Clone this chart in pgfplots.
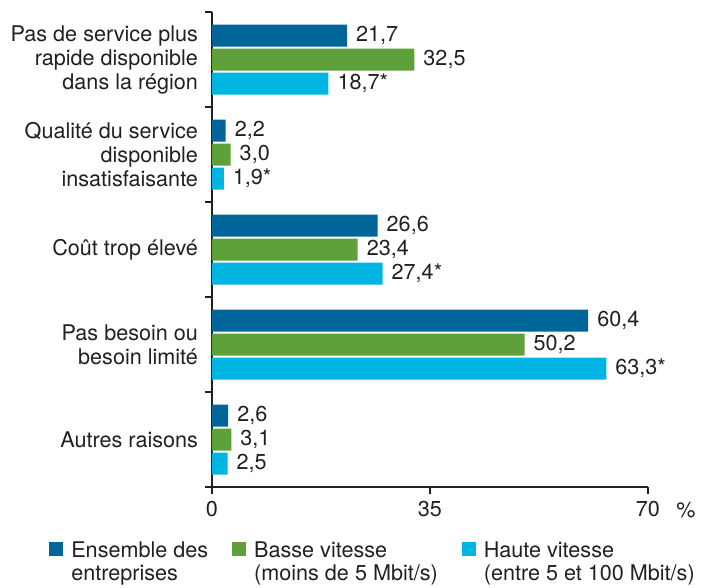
\documentclass[border=0pt]{standalone}
\usepackage{fontspec}
\setmainfont{TeX Gyre Heros}
\usepackage{pgfplots}
\pgfplotsset{compat=1.18}
\definecolor{bleu}{RGB}{0,102,153}
\definecolor{vert}{RGB}{94,160,58}
\definecolor{ciel}{RGB}{0,181,226}
\definecolor{axe}{RGB}{35,31,32}

\begin{document}
\begin{tikzpicture}
\begin{axis}[
  name=ax,
  scale only axis, width=218pt, height=237.5pt,
  xmin=0, xmax=70, ymin=-0.5, ymax=4.5,
  xbar, bar width=11pt,
  axis x line=bottom, axis y line=left,
  axis line style={-, draw=axe, line width=0.6pt},
  tick align=outside,
  tick style={draw=axe, line width=0.6pt},
  major tick length=3.5pt, minor tick length=3.5pt,
  xtick={0,35,70},
  ytick={0,1,2,3,4},
  yticklabels={{Autres raisons},{Pas besoin ou\\besoin limité},{Coût trop élevé},{Qualité du service\\disponible\\insatisfaisante},{Pas de service plus\\rapide disponible\\dans la région}},
  minor ytick={-0.5,0.5,1.5,2.5,3.5,4.5},
  major y tick style={draw=none},
  tick label style={font=\fontsize{10.8}{12}\selectfont, text=axe},
  xticklabel style={/pgf/number format/assume math mode=true},
  yticklabel style={align=right, xshift=0pt},
  point meta=explicit symbolic,
  nodes near coords,
  nodes near coords style={anchor=west, font=\fontsize{10.8}{12}\selectfont, text=axe, xshift=1pt},
  legend columns=3,
  legend cell align=left,
  legend style={at={(rel axis cs:-0.374,-0.107)}, anchor=north west, draw=none, fill=none,
    font=\fontsize{10.8}{11.5}\selectfont, text=axe, cells={align=left}, inner sep=0pt,
    /tikz/every odd column/.append style={column sep=2pt},
    /tikz/every even column/.append style={column sep=10pt}},
  legend image code/.code={\fill[#1, draw=none] (0pt,3.5pt) rectangle (7pt,10.5pt);},
  clip=false,
]
\addplot[fill=bleu, draw=none, bar shift=12pt] coordinates {
  (2.6,0) [2,6] (60.4,1) [60,4] (26.6,2) [26,6] (2.2,3) [2,2] (21.7,4) [21,7]};
\addplot[fill=vert, draw=none, bar shift=0pt] coordinates {
  (3.1,0) [3,1] (50.2,1) [50,2] (23.4,2) [23,4] (3.0,3) [3,0] (32.5,4) [32,5]};
\addplot[fill=ciel, draw=none, bar shift=-12pt] coordinates {
  (2.5,0) [2,5] (63.3,1) [63,3*] (27.4,2) [27,4*] (1.9,3) [1,9*] (18.7,4) [18,7*]};
\legend{{Ensemble des\\entreprises},{Basse vitesse\\(moins de 5 Mbit/s)},{Haute vitesse\\(entre 5 et 100 Mbit/s)}}
\node[anchor=base, font=\fontsize{10.8}{12}\selectfont, text=axe] at (rel axis cs:1,0) [xshift=19pt, yshift=-15pt] {\%};
\end{axis}
\path (ax.south west) ++(-106pt,-47pt) rectangle ++(354pt,290.5pt);
\end{tikzpicture}
\end{document}
